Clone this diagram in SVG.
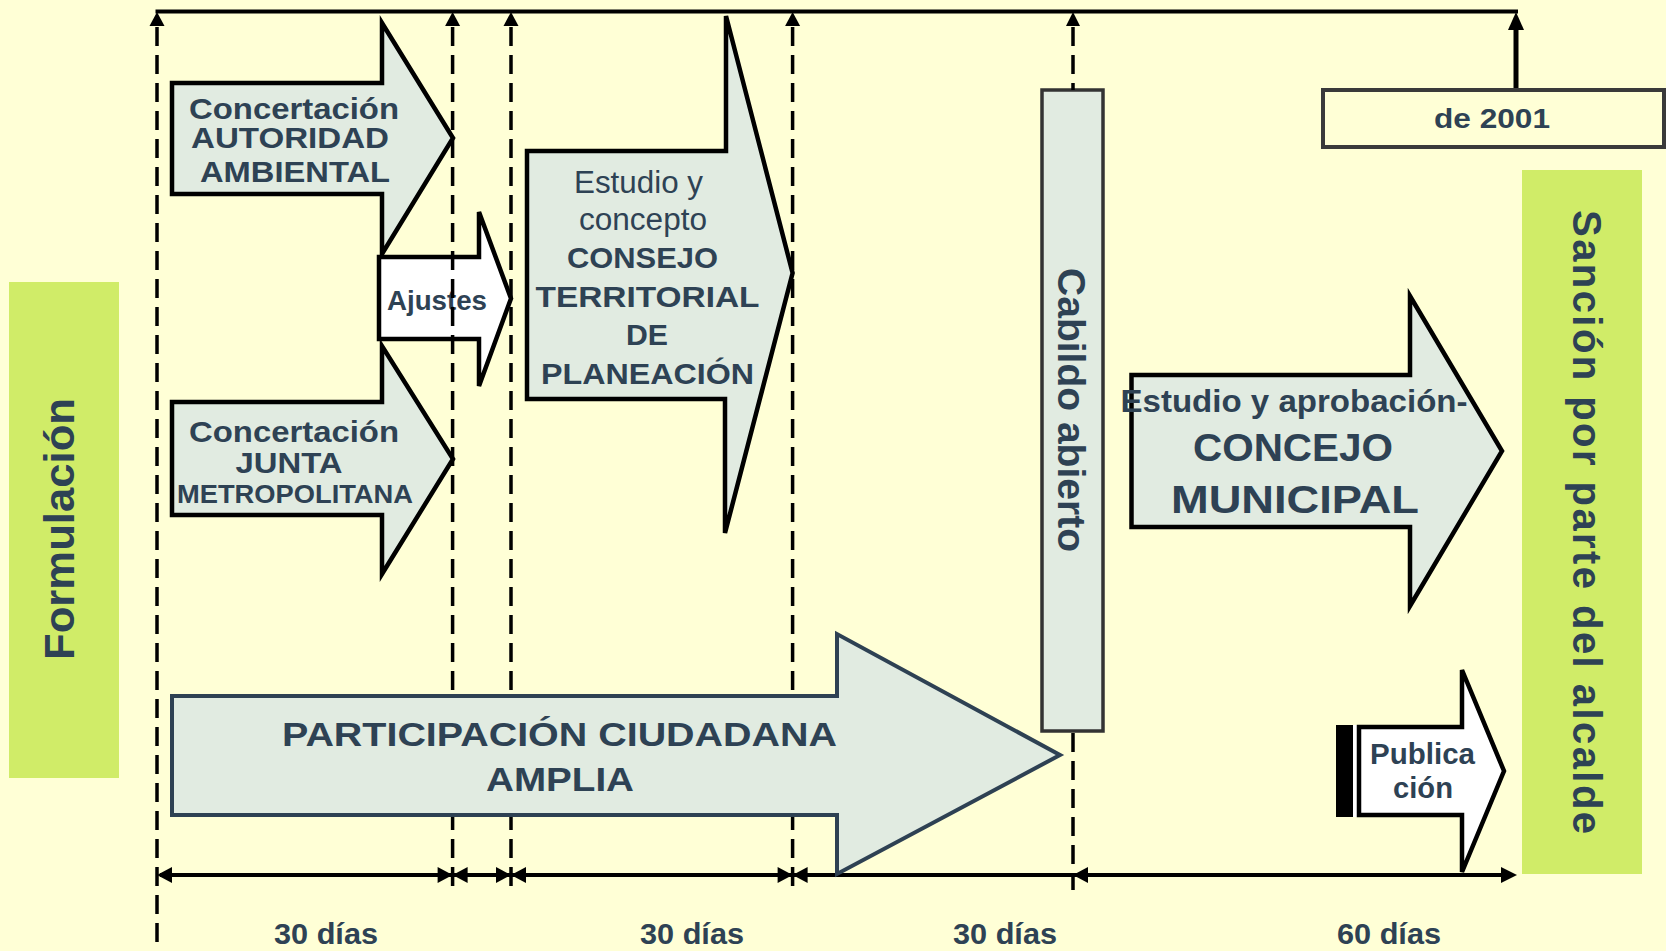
<svg xmlns="http://www.w3.org/2000/svg" width="1666" height="951" viewBox="0 0 1666 951">
<defs>
<style>
.t{font-family:"Liberation Sans",Arial,sans-serif;font-weight:bold;fill:#2E4254;text-anchor:middle}
.r{font-weight:normal}
.arw{fill:#E1EBE1;stroke:#000;stroke-width:4.5;stroke-linejoin:miter;stroke-miterlimit:4}
.wht{fill:#FFFFFF;stroke:#000;stroke-width:4.5;stroke-linejoin:miter;stroke-miterlimit:4}
.dash{stroke:#000;stroke-width:3.5;stroke-dasharray:19 9;fill:none}
.solid{stroke:#000;stroke-width:3.8;fill:none}
.ah{fill:#000}
</style>
</defs>
<rect x="0" y="0" width="1666" height="951" fill="#FFFFD6"/>

<g id="formulacion">
<rect x="9" y="282" width="110" height="496" fill="#D0EC68"/>
<text class="t" font-size="43" textLength="262" lengthAdjust="spacingAndGlyphs" transform="translate(74,529) rotate(-90)">Formulación</text>
</g>

<g id="sancion">
<rect x="1522" y="170" width="120" height="704" fill="#D0EC68"/>
<text class="t" font-size="40" textLength="624" lengthAdjust="spacing" transform="translate(1573,522) rotate(90)">Sanción por parte del alcalde</text>
</g>

<g id="autoridad">
<polygon class="arw" points="172,83 382,83 382,23 453,138 382,254 382,194 172,194"/>
<text class="t" font-size="30" x="294" y="119" textLength="210" lengthAdjust="spacingAndGlyphs">Concertación</text>
<text class="t" font-size="29" x="290" y="148" textLength="198" lengthAdjust="spacingAndGlyphs">AUTORIDAD</text>
<text class="t" font-size="30" x="295" y="182" textLength="190" lengthAdjust="spacingAndGlyphs">AMBIENTAL</text>
</g>

<g id="junta">
<polygon class="arw" points="172,402 382,402 382,346 453,459 382,574 382,515 172,515"/>
<text class="t" font-size="30" x="294" y="442" textLength="210" lengthAdjust="spacingAndGlyphs">Concertación</text>
<text class="t" font-size="30" x="289" y="473" textLength="107" lengthAdjust="spacingAndGlyphs">JUNTA</text>
<text class="t" font-size="26" x="295" y="503" textLength="236" lengthAdjust="spacingAndGlyphs">METROPOLITANA</text>
</g>

<g id="ajustes">
<polygon class="wht" points="379,257 479,257 479,212 511,298.5 479,386 479,339 379,339"/>
<text class="t" font-size="27.5" x="437" y="310" textLength="100" lengthAdjust="spacingAndGlyphs">Ajustes</text>
</g>

<g id="consejo">
<polygon class="arw" points="527,151 726,151 726,16 792.6,273 725,533 725,399 527,399"/>
<text class="t r" font-size="31" x="638.5" y="193" textLength="129" lengthAdjust="spacingAndGlyphs">Estudio y</text>
<text class="t r" font-size="31" x="643" y="229.5" textLength="128" lengthAdjust="spacingAndGlyphs">concepto</text>
<text class="t" font-size="30" x="642.5" y="268" textLength="151" lengthAdjust="spacingAndGlyphs">CONSEJO</text>
<text class="t" font-size="30" x="647.5" y="307" textLength="224" lengthAdjust="spacingAndGlyphs">TERRITORIAL</text>
<text class="t" font-size="30" x="647" y="345" textLength="42" lengthAdjust="spacingAndGlyphs">DE</text>
<text class="t" font-size="30" x="647.5" y="383.5" textLength="213" lengthAdjust="spacingAndGlyphs">PLANEACIÓN</text>
</g>

<g id="cabildo">
<rect x="1042" y="90" width="61" height="641" fill="#E1EBE1" stroke="#333" stroke-width="3.5"/>
<text class="t" font-size="39" textLength="284" lengthAdjust="spacingAndGlyphs" transform="translate(1058,410) rotate(90)">Cabildo abierto</text>
</g>

<g id="connectors">
<line class="solid" x1="155.5" y1="11.5" x2="1518" y2="11.5"/>
<line class="dash" x1="157" y1="27" x2="157" y2="951"/>
<line class="dash" x1="452.6" y1="27" x2="452.6" y2="890"/>
<line class="dash" x1="511" y1="27" x2="511" y2="890"/>
<line class="dash" x1="792.6" y1="27" x2="792.6" y2="890"/>
<line class="dash" x1="1073" y1="27" x2="1073" y2="90"/>
<line class="dash" x1="1073" y1="733" x2="1073" y2="890"/>
<polygon class="ah" points="157,12 149.5,26 164.5,26"/>
<polygon class="ah" points="452.6,12 445.1,26 460.1,26"/>
<polygon class="ah" points="511,12 503.5,26 518.5,26"/>
<polygon class="ah" points="792.6,12 785.1,26 800.1,26"/>
<polygon class="ah" points="1073,12 1066,26 1080,26"/>
<line x1="1516" y1="90" x2="1516" y2="26" stroke="#000" stroke-width="5"/>
<polygon class="ah" points="1516,12 1508,30 1524,30"/>
<line class="solid" x1="160" y1="875" x2="1510" y2="875" stroke-width="4"/>
<polygon class="ah" points="157,875 172,867 172,883"/>
<polygon class="ah" points="452.6,875 437.6,867 437.6,883"/>
<polygon class="ah" points="452.6,875 467.6,867 467.6,883"/>
<polygon class="ah" points="511,875 496,867 496,883"/>
<polygon class="ah" points="511,875 526,867 526,883"/>
<polygon class="ah" points="792.6,875 777.6,867 777.6,883"/>
<polygon class="ah" points="792.6,875 807.6,867 807.6,883"/>
<polygon class="ah" points="1073,875 1088,867 1088,883"/>
<polygon class="ah" points="1517,875 1501,867 1501,883"/>
</g>

<g id="participacion">
<polygon points="172,696 837,696 837,634 1060,755 837,874 837,815 172,815" fill="#E1EBE1" stroke="#2E4153" stroke-width="4" stroke-linejoin="miter" stroke-miterlimit="4"/>
<text class="t" font-size="34" x="559.5" y="746" textLength="555" lengthAdjust="spacingAndGlyphs">PARTICIPACIÓN CIUDADANA</text>
<text class="t" font-size="34" x="560" y="791" textLength="148" lengthAdjust="spacingAndGlyphs">AMPLIA</text>
</g>

<g id="fecha">
<rect x="1323" y="90" width="341" height="57" fill="#FFFFD6" stroke="#3A3A3A" stroke-width="4"/>
<text class="t" font-size="28" x="1492" y="128" textLength="116" lengthAdjust="spacingAndGlyphs">de 2001</text>
</g>

<g id="concejo">
<polygon class="arw" points="1131.5,375 1410,375 1410,296 1502,451 1410,606 1410,527 1131.5,527"/>
<text class="t" font-size="32" x="1294" y="412" textLength="347" lengthAdjust="spacingAndGlyphs">Estudio y aprobación-</text>
<text class="t" font-size="39" x="1293" y="461" textLength="200" lengthAdjust="spacingAndGlyphs">CONCEJO</text>
<text class="t" font-size="39" x="1295" y="513" textLength="248" lengthAdjust="spacingAndGlyphs">MUNICIPAL</text>
</g>

<g id="publicacion">
<rect x="1336" y="725" width="17" height="92" fill="#000"/>
<rect x="1353" y="725" width="4" height="92" fill="#FFFFFF"/>
<polygon class="wht" points="1359,727 1462,727 1462,670 1504,771 1462,872 1462,815 1359,815"/>
<text class="t" font-size="29" x="1422.5" y="764" textLength="105" lengthAdjust="spacingAndGlyphs">Publica</text>
<text class="t" font-size="29" x="1423" y="798" textLength="60" lengthAdjust="spacingAndGlyphs">ción</text>
</g>

<g id="labels">
<text class="t" font-size="29" x="326" y="944" textLength="104" lengthAdjust="spacingAndGlyphs">30 días</text>
<text class="t" font-size="29" x="692" y="944" textLength="104" lengthAdjust="spacingAndGlyphs">30 días</text>
<text class="t" font-size="29" x="1005" y="944" textLength="104" lengthAdjust="spacingAndGlyphs">30 días</text>
<text class="t" font-size="29" x="1389" y="944" textLength="104" lengthAdjust="spacingAndGlyphs">60 días</text>
</g>
</svg>
